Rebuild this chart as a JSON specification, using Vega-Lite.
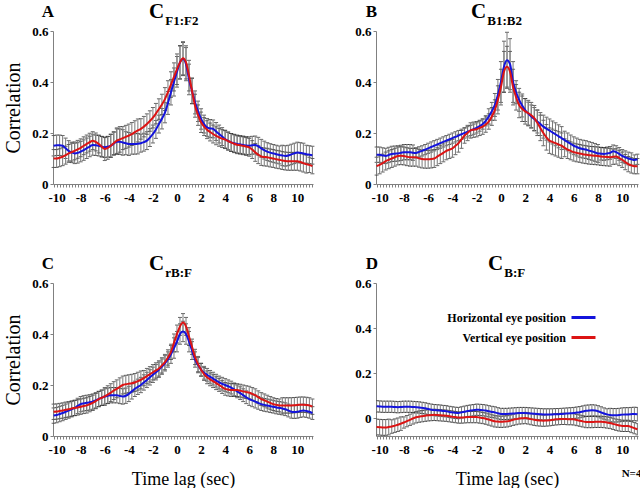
{
"$schema": "https://vega.github.io/schema/vega-lite/v6.json",
"padding": {"left": 3, "top": 1, "right": 5, "bottom": 0},
"background": "white",
"config": {
 "view": {"stroke": null},
 "font": "Liberation Serif",
 "axis": {"grid": false, "domainColor": "#808080", "tickColor": "#808080", "tickSize": 3, "labelFont": "Liberation Serif", "labelFontSize": 13, "labelFontWeight": "bold", "labelColor": "#000", "titleFont": "Liberation Serif", "titleFontWeight": "normal", "titleFontSize": 20, "titleColor": "#000", "labelFlush": false, "labelOverlap": false},
 "title": {"font": "Liberation Serif", "fontWeight": "bold", "color": "#000", "subtitleFont": "Liberation Serif", "subtitleFontWeight": "bold", "subtitleColor": "#000"}
},
"title": {"text": "N=4", "orient": "bottom", "anchor": "end", "fontSize": 11, "offset": -20},
"datasets": {
"A": [
{"t":-10.25,"h":0.150,"a":0.04,"v":0.100,"b":0.035},
{"t":-10,"h":0.152,"a":0.04,"v":0.100,"b":0.035},
{"t":-9.75,"h":0.152,"a":0.04,"v":0.103,"b":0.035},
{"t":-9.5,"h":0.150,"a":0.04,"v":0.107,"b":0.035},
{"t":-9.25,"h":0.140,"a":0.04,"v":0.113,"b":0.035},
{"t":-9,"h":0.130,"a":0.04,"v":0.120,"b":0.035},
{"t":-8.75,"h":0.124,"a":0.04,"v":0.125,"b":0.035},
{"t":-8.5,"h":0.120,"a":0.04,"v":0.130,"b":0.035},
{"t":-8.25,"h":0.122,"a":0.04,"v":0.136,"b":0.035},
{"t":-8,"h":0.127,"a":0.04,"v":0.142,"b":0.035},
{"t":-7.75,"h":0.133,"a":0.04,"v":0.150,"b":0.035},
{"t":-7.5,"h":0.140,"a":0.04,"v":0.157,"b":0.035},
{"t":-7.25,"h":0.147,"a":0.04,"v":0.164,"b":0.035},
{"t":-7,"h":0.153,"a":0.04,"v":0.170,"b":0.035},
{"t":-6.75,"h":0.152,"a":0.04,"v":0.165,"b":0.035},
{"t":-6.5,"h":0.150,"a":0.04,"v":0.157,"b":0.035},
{"t":-6.25,"h":0.147,"a":0.04,"v":0.146,"b":0.04},
{"t":-6,"h":0.144,"a":0.04,"v":0.137,"b":0.045},
{"t":-5.75,"h":0.146,"a":0.04,"v":0.142,"b":0.045},
{"t":-5.5,"h":0.150,"a":0.045,"v":0.150,"b":0.045},
{"t":-5.25,"h":0.158,"a":0.045,"v":0.160,"b":0.045},
{"t":-5,"h":0.166,"a":0.05,"v":0.170,"b":0.05},
{"t":-4.75,"h":0.166,"a":0.05,"v":0.175,"b":0.05},
{"t":-4.5,"h":0.163,"a":0.05,"v":0.180,"b":0.045},
{"t":-4.25,"h":0.160,"a":0.045,"v":0.185,"b":0.045},
{"t":-4,"h":0.157,"a":0.045,"v":0.190,"b":0.045},
{"t":-3.75,"h":0.157,"a":0.04,"v":0.196,"b":0.045},
{"t":-3.5,"h":0.157,"a":0.04,"v":0.203,"b":0.045},
{"t":-3.25,"h":0.158,"a":0.04,"v":0.210,"b":0.045},
{"t":-3,"h":0.160,"a":0.035,"v":0.216,"b":0.04},
{"t":-2.75,"h":0.164,"a":0.035,"v":0.225,"b":0.04},
{"t":-2.5,"h":0.170,"a":0.035,"v":0.235,"b":0.04},
{"t":-2.25,"h":0.182,"a":0.035,"v":0.247,"b":0.04},
{"t":-2,"h":0.196,"a":0.035,"v":0.260,"b":0.04},
{"t":-1.75,"h":0.214,"a":0.035,"v":0.276,"b":0.04},
{"t":-1.5,"h":0.235,"a":0.035,"v":0.294,"b":0.04},
{"t":-1.25,"h":0.256,"a":0.04,"v":0.312,"b":0.04},
{"t":-1,"h":0.280,"a":0.04,"v":0.333,"b":0.045},
{"t":-0.75,"h":0.318,"a":0.045,"v":0.360,"b":0.045},
{"t":-0.5,"h":0.360,"a":0.05,"v":0.390,"b":0.05},
{"t":-0.25,"h":0.400,"a":0.055,"v":0.420,"b":0.055},
{"t":0,"h":0.440,"a":0.06,"v":0.450,"b":0.06},
{"t":0.25,"h":0.477,"a":0.065,"v":0.477,"b":0.065},
{"t":0.5,"h":0.490,"a":0.065,"v":0.493,"b":0.065},
{"t":0.75,"h":0.470,"a":0.065,"v":0.477,"b":0.065},
{"t":1,"h":0.410,"a":0.06,"v":0.425,"b":0.06},
{"t":1.25,"h":0.365,"a":0.05,"v":0.365,"b":0.05},
{"t":1.5,"h":0.320,"a":0.045,"v":0.307,"b":0.045},
{"t":1.75,"h":0.285,"a":0.04,"v":0.270,"b":0.04},
{"t":2,"h":0.255,"a":0.04,"v":0.242,"b":0.04},
{"t":2.25,"h":0.235,"a":0.035,"v":0.225,"b":0.035},
{"t":2.5,"h":0.222,"a":0.035,"v":0.213,"b":0.035},
{"t":2.75,"h":0.218,"a":0.035,"v":0.204,"b":0.035},
{"t":3,"h":0.216,"a":0.035,"v":0.196,"b":0.035},
{"t":3.25,"h":0.206,"a":0.035,"v":0.189,"b":0.035},
{"t":3.5,"h":0.196,"a":0.035,"v":0.183,"b":0.035},
{"t":3.75,"h":0.186,"a":0.035,"v":0.178,"b":0.035},
{"t":4,"h":0.176,"a":0.035,"v":0.174,"b":0.035},
{"t":4.25,"h":0.169,"a":0.035,"v":0.168,"b":0.035},
{"t":4.5,"h":0.163,"a":0.035,"v":0.163,"b":0.035},
{"t":4.75,"h":0.160,"a":0.035,"v":0.158,"b":0.035},
{"t":5,"h":0.157,"a":0.035,"v":0.154,"b":0.035},
{"t":5.25,"h":0.155,"a":0.035,"v":0.152,"b":0.035},
{"t":5.5,"h":0.153,"a":0.035,"v":0.150,"b":0.035},
{"t":5.75,"h":0.151,"a":0.035,"v":0.147,"b":0.035},
{"t":6,"h":0.150,"a":0.035,"v":0.144,"b":0.035},
{"t":6.25,"h":0.152,"a":0.035,"v":0.135,"b":0.035},
{"t":6.5,"h":0.153,"a":0.035,"v":0.124,"b":0.035},
{"t":6.75,"h":0.148,"a":0.035,"v":0.115,"b":0.035},
{"t":7,"h":0.140,"a":0.035,"v":0.108,"b":0.035},
{"t":7.25,"h":0.133,"a":0.035,"v":0.106,"b":0.035},
{"t":7.5,"h":0.127,"a":0.035,"v":0.105,"b":0.035},
{"t":7.75,"h":0.123,"a":0.035,"v":0.102,"b":0.035},
{"t":8,"h":0.120,"a":0.035,"v":0.100,"b":0.035},
{"t":8.25,"h":0.117,"a":0.035,"v":0.097,"b":0.035},
{"t":8.5,"h":0.114,"a":0.035,"v":0.095,"b":0.035},
{"t":8.75,"h":0.112,"a":0.04,"v":0.092,"b":0.035},
{"t":9,"h":0.110,"a":0.04,"v":0.090,"b":0.035},
{"t":9.25,"h":0.112,"a":0.04,"v":0.089,"b":0.035},
{"t":9.5,"h":0.116,"a":0.04,"v":0.089,"b":0.035},
{"t":9.75,"h":0.120,"a":0.04,"v":0.089,"b":0.035},
{"t":10,"h":0.124,"a":0.04,"v":0.089,"b":0.035},
{"t":10.25,"h":0.122,"a":0.04,"v":0.086,"b":0.035},
{"t":10.5,"h":0.120,"a":0.04,"v":0.082,"b":0.035},
{"t":10.75,"h":0.117,"a":0.035,"v":0.078,"b":0.035},
{"t":11,"h":0.115,"a":0.035,"v":0.075,"b":0.03},
{"t":11.25,"h":0.113,"a":0.035,"v":0.070,"b":0.03}
],
"B": [
{"t":-10.25,"h":0.115,"a":0.03,"v":0.070,"b":0.035},
{"t":-10,"h":0.115,"a":0.03,"v":0.075,"b":0.035},
{"t":-9.75,"h":0.112,"a":0.03,"v":0.082,"b":0.035},
{"t":-9.5,"h":0.110,"a":0.03,"v":0.090,"b":0.035},
{"t":-9.25,"h":0.114,"a":0.03,"v":0.095,"b":0.035},
{"t":-9,"h":0.118,"a":0.03,"v":0.100,"b":0.035},
{"t":-8.75,"h":0.119,"a":0.03,"v":0.105,"b":0.035},
{"t":-8.5,"h":0.120,"a":0.03,"v":0.110,"b":0.035},
{"t":-8.25,"h":0.122,"a":0.03,"v":0.111,"b":0.035},
{"t":-8,"h":0.125,"a":0.03,"v":0.110,"b":0.035},
{"t":-7.75,"h":0.125,"a":0.03,"v":0.107,"b":0.035},
{"t":-7.5,"h":0.125,"a":0.03,"v":0.105,"b":0.035},
{"t":-7.25,"h":0.123,"a":0.03,"v":0.105,"b":0.035},
{"t":-7,"h":0.122,"a":0.02,"v":0.105,"b":0.035},
{"t":-6.75,"h":0.126,"a":0.02,"v":0.101,"b":0.035},
{"t":-6.5,"h":0.130,"a":0.02,"v":0.098,"b":0.035},
{"t":-6.25,"h":0.135,"a":0.02,"v":0.097,"b":0.035},
{"t":-6,"h":0.140,"a":0.02,"v":0.097,"b":0.035},
{"t":-5.75,"h":0.145,"a":0.02,"v":0.098,"b":0.035},
{"t":-5.5,"h":0.150,"a":0.02,"v":0.100,"b":0.035},
{"t":-5.25,"h":0.155,"a":0.02,"v":0.107,"b":0.035},
{"t":-5,"h":0.160,"a":0.02,"v":0.115,"b":0.035},
{"t":-4.75,"h":0.165,"a":0.02,"v":0.122,"b":0.035},
{"t":-4.5,"h":0.170,"a":0.02,"v":0.130,"b":0.035},
{"t":-4.25,"h":0.175,"a":0.02,"v":0.135,"b":0.035},
{"t":-4,"h":0.180,"a":0.02,"v":0.140,"b":0.035},
{"t":-3.75,"h":0.185,"a":0.02,"v":0.150,"b":0.035},
{"t":-3.5,"h":0.190,"a":0.02,"v":0.160,"b":0.035},
{"t":-3.25,"h":0.195,"a":0.02,"v":0.175,"b":0.035},
{"t":-3,"h":0.200,"a":0.02,"v":0.190,"b":0.03},
{"t":-2.75,"h":0.205,"a":0.02,"v":0.200,"b":0.03},
{"t":-2.5,"h":0.210,"a":0.02,"v":0.210,"b":0.03},
{"t":-2.25,"h":0.215,"a":0.02,"v":0.213,"b":0.03},
{"t":-2,"h":0.220,"a":0.02,"v":0.215,"b":0.03},
{"t":-1.75,"h":0.227,"a":0.02,"v":0.220,"b":0.03},
{"t":-1.5,"h":0.235,"a":0.02,"v":0.225,"b":0.03},
{"t":-1.25,"h":0.248,"a":0.02,"v":0.233,"b":0.03},
{"t":-1,"h":0.265,"a":0.03,"v":0.245,"b":0.03},
{"t":-0.75,"h":0.285,"a":0.035,"v":0.265,"b":0.035},
{"t":-0.5,"h":0.310,"a":0.045,"v":0.290,"b":0.04},
{"t":-0.25,"h":0.350,"a":0.06,"v":0.330,"b":0.055},
{"t":0,"h":0.400,"a":0.08,"v":0.380,"b":0.07},
{"t":0.25,"h":0.460,"a":0.1,"v":0.440,"b":0.08},
{"t":0.5,"h":0.485,"a":0.11,"v":0.460,"b":0.08},
{"t":0.75,"h":0.470,"a":0.1,"v":0.440,"b":0.08},
{"t":1,"h":0.400,"a":0.08,"v":0.380,"b":0.07},
{"t":1.25,"h":0.360,"a":0.045,"v":0.340,"b":0.05},
{"t":1.5,"h":0.330,"a":0.045,"v":0.310,"b":0.05},
{"t":1.75,"h":0.308,"a":0.045,"v":0.295,"b":0.05},
{"t":2,"h":0.290,"a":0.045,"v":0.285,"b":0.05},
{"t":2.25,"h":0.276,"a":0.045,"v":0.278,"b":0.05},
{"t":2.5,"h":0.265,"a":0.045,"v":0.270,"b":0.05},
{"t":2.75,"h":0.255,"a":0.045,"v":0.258,"b":0.05},
{"t":3,"h":0.245,"a":0.045,"v":0.240,"b":0.05},
{"t":3.25,"h":0.235,"a":0.045,"v":0.220,"b":0.05},
{"t":3.5,"h":0.225,"a":0.045,"v":0.200,"b":0.05},
{"t":3.75,"h":0.217,"a":0.045,"v":0.183,"b":0.05},
{"t":4,"h":0.210,"a":0.045,"v":0.170,"b":0.05},
{"t":4.25,"h":0.202,"a":0.045,"v":0.165,"b":0.05},
{"t":4.5,"h":0.195,"a":0.045,"v":0.160,"b":0.05},
{"t":4.75,"h":0.187,"a":0.045,"v":0.155,"b":0.05},
{"t":5,"h":0.180,"a":0.045,"v":0.150,"b":0.05},
{"t":5.25,"h":0.172,"a":0.035,"v":0.142,"b":0.035},
{"t":5.5,"h":0.165,"a":0.035,"v":0.135,"b":0.035},
{"t":5.75,"h":0.157,"a":0.035,"v":0.130,"b":0.035},
{"t":6,"h":0.150,"a":0.035,"v":0.125,"b":0.035},
{"t":6.25,"h":0.145,"a":0.035,"v":0.122,"b":0.035},
{"t":6.5,"h":0.140,"a":0.035,"v":0.120,"b":0.035},
{"t":6.75,"h":0.137,"a":0.035,"v":0.117,"b":0.035},
{"t":7,"h":0.135,"a":0.035,"v":0.115,"b":0.035},
{"t":7.25,"h":0.131,"a":0.035,"v":0.113,"b":0.035},
{"t":7.5,"h":0.128,"a":0.035,"v":0.112,"b":0.035},
{"t":7.75,"h":0.124,"a":0.035,"v":0.111,"b":0.035},
{"t":8,"h":0.120,"a":0.035,"v":0.110,"b":0.035},
{"t":8.25,"h":0.119,"a":0.025,"v":0.108,"b":0.035},
{"t":8.5,"h":0.118,"a":0.025,"v":0.107,"b":0.035},
{"t":8.75,"h":0.120,"a":0.025,"v":0.106,"b":0.035},
{"t":9,"h":0.122,"a":0.025,"v":0.105,"b":0.035},
{"t":9.25,"h":0.128,"a":0.025,"v":0.107,"b":0.03},
{"t":9.5,"h":0.125,"a":0.025,"v":0.108,"b":0.03},
{"t":9.75,"h":0.118,"a":0.025,"v":0.102,"b":0.03},
{"t":10,"h":0.110,"a":0.025,"v":0.095,"b":0.03},
{"t":10.25,"h":0.105,"a":0.025,"v":0.086,"b":0.03},
{"t":10.5,"h":0.100,"a":0.025,"v":0.078,"b":0.03},
{"t":10.75,"h":0.097,"a":0.025,"v":0.073,"b":0.03},
{"t":11,"h":0.094,"a":0.02,"v":0.070,"b":0.03},
{"t":11.25,"h":0.097,"a":0.02,"v":0.070,"b":0.03}
],
"C": [
{"t":-10.25,"h":0.080,"a":0.03,"v":0.095,"b":0.03},
{"t":-10,"h":0.082,"a":0.03,"v":0.096,"b":0.03},
{"t":-9.75,"h":0.086,"a":0.03,"v":0.098,"b":0.03},
{"t":-9.5,"h":0.090,"a":0.03,"v":0.100,"b":0.03},
{"t":-9.25,"h":0.095,"a":0.03,"v":0.103,"b":0.03},
{"t":-9,"h":0.100,"a":0.03,"v":0.105,"b":0.03},
{"t":-8.75,"h":0.105,"a":0.03,"v":0.108,"b":0.03},
{"t":-8.5,"h":0.110,"a":0.03,"v":0.110,"b":0.03},
{"t":-8.25,"h":0.118,"a":0.03,"v":0.112,"b":0.03},
{"t":-8,"h":0.125,"a":0.03,"v":0.115,"b":0.03},
{"t":-7.75,"h":0.128,"a":0.03,"v":0.118,"b":0.03},
{"t":-7.5,"h":0.130,"a":0.03,"v":0.120,"b":0.03},
{"t":-7.25,"h":0.132,"a":0.03,"v":0.125,"b":0.03},
{"t":-7,"h":0.135,"a":0.03,"v":0.130,"b":0.03},
{"t":-6.75,"h":0.140,"a":0.03,"v":0.137,"b":0.03},
{"t":-6.5,"h":0.145,"a":0.03,"v":0.145,"b":0.03},
{"t":-6.25,"h":0.150,"a":0.03,"v":0.150,"b":0.03},
{"t":-6,"h":0.155,"a":0.03,"v":0.155,"b":0.035},
{"t":-5.75,"h":0.158,"a":0.03,"v":0.162,"b":0.035},
{"t":-5.5,"h":0.160,"a":0.03,"v":0.170,"b":0.035},
{"t":-5.25,"h":0.160,"a":0.03,"v":0.178,"b":0.035},
{"t":-5,"h":0.160,"a":0.03,"v":0.185,"b":0.035},
{"t":-4.75,"h":0.157,"a":0.03,"v":0.193,"b":0.035},
{"t":-4.5,"h":0.155,"a":0.03,"v":0.200,"b":0.035},
{"t":-4.25,"h":0.158,"a":0.03,"v":0.203,"b":0.035},
{"t":-4,"h":0.165,"a":0.03,"v":0.205,"b":0.035},
{"t":-3.75,"h":0.175,"a":0.03,"v":0.207,"b":0.035},
{"t":-3.5,"h":0.185,"a":0.03,"v":0.210,"b":0.035},
{"t":-3.25,"h":0.193,"a":0.03,"v":0.215,"b":0.035},
{"t":-3,"h":0.200,"a":0.03,"v":0.220,"b":0.035},
{"t":-2.75,"h":0.210,"a":0.03,"v":0.227,"b":0.03},
{"t":-2.5,"h":0.220,"a":0.03,"v":0.235,"b":0.03},
{"t":-2.25,"h":0.230,"a":0.03,"v":0.242,"b":0.03},
{"t":-2,"h":0.240,"a":0.03,"v":0.250,"b":0.03},
{"t":-1.75,"h":0.250,"a":0.03,"v":0.257,"b":0.03},
{"t":-1.5,"h":0.260,"a":0.03,"v":0.265,"b":0.03},
{"t":-1.25,"h":0.272,"a":0.03,"v":0.277,"b":0.03},
{"t":-1,"h":0.285,"a":0.03,"v":0.290,"b":0.03},
{"t":-0.75,"h":0.300,"a":0.03,"v":0.308,"b":0.03},
{"t":-0.5,"h":0.320,"a":0.035,"v":0.330,"b":0.03},
{"t":-0.25,"h":0.345,"a":0.04,"v":0.365,"b":0.035},
{"t":0,"h":0.370,"a":0.04,"v":0.400,"b":0.035},
{"t":0.25,"h":0.400,"a":0.04,"v":0.430,"b":0.035},
{"t":0.5,"h":0.410,"a":0.04,"v":0.445,"b":0.035},
{"t":0.75,"h":0.400,"a":0.04,"v":0.430,"b":0.035},
{"t":1,"h":0.370,"a":0.04,"v":0.390,"b":0.035},
{"t":1.25,"h":0.335,"a":0.035,"v":0.350,"b":0.03},
{"t":1.5,"h":0.300,"a":0.03,"v":0.310,"b":0.03},
{"t":1.75,"h":0.278,"a":0.03,"v":0.282,"b":0.03},
{"t":2,"h":0.260,"a":0.025,"v":0.260,"b":0.025},
{"t":2.25,"h":0.248,"a":0.025,"v":0.243,"b":0.025},
{"t":2.5,"h":0.240,"a":0.025,"v":0.230,"b":0.025},
{"t":2.75,"h":0.232,"a":0.025,"v":0.222,"b":0.025},
{"t":3,"h":0.225,"a":0.025,"v":0.215,"b":0.025},
{"t":3.25,"h":0.217,"a":0.025,"v":0.207,"b":0.025},
{"t":3.5,"h":0.210,"a":0.025,"v":0.200,"b":0.025},
{"t":3.75,"h":0.205,"a":0.025,"v":0.192,"b":0.025},
{"t":4,"h":0.200,"a":0.025,"v":0.185,"b":0.025},
{"t":4.25,"h":0.195,"a":0.025,"v":0.182,"b":0.025},
{"t":4.5,"h":0.190,"a":0.025,"v":0.180,"b":0.025},
{"t":4.75,"h":0.183,"a":0.025,"v":0.180,"b":0.025},
{"t":5,"h":0.175,"a":0.025,"v":0.180,"b":0.025},
{"t":5.25,"h":0.168,"a":0.025,"v":0.178,"b":0.025},
{"t":5.5,"h":0.160,"a":0.025,"v":0.175,"b":0.025},
{"t":5.75,"h":0.152,"a":0.025,"v":0.172,"b":0.025},
{"t":6,"h":0.145,"a":0.025,"v":0.170,"b":0.025},
{"t":6.25,"h":0.140,"a":0.025,"v":0.165,"b":0.025},
{"t":6.5,"h":0.135,"a":0.025,"v":0.160,"b":0.025},
{"t":6.75,"h":0.130,"a":0.025,"v":0.152,"b":0.025},
{"t":7,"h":0.125,"a":0.025,"v":0.145,"b":0.025},
{"t":7.25,"h":0.122,"a":0.025,"v":0.140,"b":0.025},
{"t":7.5,"h":0.120,"a":0.025,"v":0.135,"b":0.025},
{"t":7.75,"h":0.117,"a":0.025,"v":0.130,"b":0.025},
{"t":8,"h":0.115,"a":0.025,"v":0.125,"b":0.025},
{"t":8.25,"h":0.112,"a":0.025,"v":0.122,"b":0.025},
{"t":8.5,"h":0.110,"a":0.025,"v":0.120,"b":0.025},
{"t":8.75,"h":0.108,"a":0.025,"v":0.120,"b":0.03},
{"t":9,"h":0.105,"a":0.025,"v":0.120,"b":0.03},
{"t":9.25,"h":0.100,"a":0.025,"v":0.120,"b":0.03},
{"t":9.5,"h":0.095,"a":0.025,"v":0.120,"b":0.03},
{"t":9.75,"h":0.094,"a":0.025,"v":0.121,"b":0.03},
{"t":10,"h":0.095,"a":0.025,"v":0.122,"b":0.03},
{"t":10.25,"h":0.098,"a":0.025,"v":0.123,"b":0.03},
{"t":10.5,"h":0.100,"a":0.025,"v":0.123,"b":0.03},
{"t":10.75,"h":0.098,"a":0.025,"v":0.122,"b":0.03},
{"t":11,"h":0.095,"a":0.025,"v":0.120,"b":0.03},
{"t":11.25,"h":0.090,"a":0.025,"v":0.115,"b":0.03}
],
"D": [
{"t":-10.25,"h":0.052,"a":0.025,"v":-0.040,"b":0.035},
{"t":-10,"h":0.051,"a":0.025,"v":-0.041,"b":0.035},
{"t":-9.75,"h":0.050,"a":0.025,"v":-0.042,"b":0.035},
{"t":-9.5,"h":0.050,"a":0.025,"v":-0.042,"b":0.035},
{"t":-9.25,"h":0.050,"a":0.025,"v":-0.040,"b":0.035},
{"t":-9,"h":0.050,"a":0.025,"v":-0.038,"b":0.03},
{"t":-8.75,"h":0.049,"a":0.025,"v":-0.034,"b":0.03},
{"t":-8.5,"h":0.048,"a":0.025,"v":-0.030,"b":0.03},
{"t":-8.25,"h":0.049,"a":0.025,"v":-0.025,"b":0.03},
{"t":-8,"h":0.050,"a":0.025,"v":-0.020,"b":0.025},
{"t":-7.75,"h":0.050,"a":0.025,"v":-0.014,"b":0.025},
{"t":-7.5,"h":0.050,"a":0.025,"v":-0.008,"b":0.025},
{"t":-7.25,"h":0.049,"a":0.025,"v":-0.002,"b":0.025},
{"t":-7,"h":0.048,"a":0.025,"v":0.003,"b":0.025},
{"t":-6.75,"h":0.047,"a":0.025,"v":0.006,"b":0.025},
{"t":-6.5,"h":0.045,"a":0.025,"v":0.008,"b":0.025},
{"t":-6.25,"h":0.043,"a":0.025,"v":0.010,"b":0.025},
{"t":-6,"h":0.040,"a":0.025,"v":0.012,"b":0.025},
{"t":-5.75,"h":0.037,"a":0.025,"v":0.013,"b":0.025},
{"t":-5.5,"h":0.035,"a":0.025,"v":0.014,"b":0.025},
{"t":-5.25,"h":0.034,"a":0.025,"v":0.013,"b":0.025},
{"t":-5,"h":0.033,"a":0.025,"v":0.012,"b":0.025},
{"t":-4.75,"h":0.031,"a":0.025,"v":0.011,"b":0.025},
{"t":-4.5,"h":0.030,"a":0.025,"v":0.010,"b":0.025},
{"t":-4.25,"h":0.027,"a":0.025,"v":0.008,"b":0.025},
{"t":-4,"h":0.025,"a":0.025,"v":0.006,"b":0.025},
{"t":-3.75,"h":0.023,"a":0.025,"v":0.004,"b":0.025},
{"t":-3.5,"h":0.022,"a":0.025,"v":0.002,"b":0.025},
{"t":-3.25,"h":0.025,"a":0.025,"v":0.002,"b":0.025},
{"t":-3,"h":0.028,"a":0.025,"v":0.003,"b":0.025},
{"t":-2.75,"h":0.031,"a":0.025,"v":0.004,"b":0.025},
{"t":-2.5,"h":0.033,"a":0.025,"v":0.004,"b":0.025},
{"t":-2.25,"h":0.035,"a":0.025,"v":0.004,"b":0.025},
{"t":-2,"h":0.037,"a":0.025,"v":0.004,"b":0.025},
{"t":-1.75,"h":0.036,"a":0.025,"v":0.002,"b":0.025},
{"t":-1.5,"h":0.035,"a":0.025,"v":0.000,"b":0.025},
{"t":-1.25,"h":0.033,"a":0.025,"v":-0.003,"b":0.025},
{"t":-1,"h":0.030,"a":0.025,"v":-0.007,"b":0.025},
{"t":-0.75,"h":0.027,"a":0.025,"v":-0.011,"b":0.025},
{"t":-0.5,"h":0.025,"a":0.025,"v":-0.015,"b":0.025},
{"t":-0.25,"h":0.021,"a":0.025,"v":-0.016,"b":0.025},
{"t":0,"h":0.018,"a":0.025,"v":-0.017,"b":0.025},
{"t":0.25,"h":0.018,"a":0.025,"v":-0.016,"b":0.025},
{"t":0.5,"h":0.018,"a":0.025,"v":-0.015,"b":0.025},
{"t":0.75,"h":0.019,"a":0.025,"v":-0.012,"b":0.025},
{"t":1,"h":0.020,"a":0.025,"v":-0.008,"b":0.025},
{"t":1.25,"h":0.021,"a":0.025,"v":-0.005,"b":0.025},
{"t":1.5,"h":0.022,"a":0.025,"v":-0.002,"b":0.025},
{"t":1.75,"h":0.022,"a":0.025,"v":-0.001,"b":0.025},
{"t":2,"h":0.022,"a":0.025,"v":0.000,"b":0.025},
{"t":2.25,"h":0.021,"a":0.025,"v":-0.002,"b":0.025},
{"t":2.5,"h":0.020,"a":0.025,"v":-0.005,"b":0.025},
{"t":2.75,"h":0.019,"a":0.025,"v":-0.008,"b":0.025},
{"t":3,"h":0.018,"a":0.025,"v":-0.010,"b":0.025},
{"t":3.25,"h":0.017,"a":0.025,"v":-0.011,"b":0.025},
{"t":3.5,"h":0.016,"a":0.025,"v":-0.012,"b":0.025},
{"t":3.75,"h":0.016,"a":0.025,"v":-0.011,"b":0.025},
{"t":4,"h":0.016,"a":0.025,"v":-0.010,"b":0.025},
{"t":4.25,"h":0.016,"a":0.025,"v":-0.008,"b":0.025},
{"t":4.5,"h":0.017,"a":0.025,"v":-0.006,"b":0.025},
{"t":4.75,"h":0.017,"a":0.025,"v":-0.005,"b":0.025},
{"t":5,"h":0.018,"a":0.025,"v":-0.004,"b":0.025},
{"t":5.25,"h":0.019,"a":0.025,"v":-0.004,"b":0.025},
{"t":5.5,"h":0.020,"a":0.025,"v":-0.005,"b":0.025},
{"t":5.75,"h":0.021,"a":0.025,"v":-0.005,"b":0.025},
{"t":6,"h":0.022,"a":0.025,"v":-0.006,"b":0.025},
{"t":6.25,"h":0.024,"a":0.025,"v":-0.009,"b":0.025},
{"t":6.5,"h":0.026,"a":0.025,"v":-0.012,"b":0.025},
{"t":6.75,"h":0.029,"a":0.025,"v":-0.015,"b":0.025},
{"t":7,"h":0.032,"a":0.025,"v":-0.018,"b":0.025},
{"t":7.25,"h":0.033,"a":0.025,"v":-0.018,"b":0.025},
{"t":7.5,"h":0.034,"a":0.025,"v":-0.018,"b":0.025},
{"t":7.75,"h":0.033,"a":0.025,"v":-0.017,"b":0.025},
{"t":8,"h":0.030,"a":0.025,"v":-0.017,"b":0.025},
{"t":8.25,"h":0.025,"a":0.025,"v":-0.017,"b":0.025},
{"t":8.5,"h":0.020,"a":0.025,"v":-0.018,"b":0.025},
{"t":8.75,"h":0.016,"a":0.025,"v":-0.020,"b":0.025},
{"t":9,"h":0.013,"a":0.03,"v":-0.022,"b":0.025},
{"t":9.25,"h":0.012,"a":0.03,"v":-0.026,"b":0.025},
{"t":9.5,"h":0.012,"a":0.03,"v":-0.030,"b":0.025},
{"t":9.75,"h":0.013,"a":0.03,"v":-0.033,"b":0.025},
{"t":10,"h":0.015,"a":0.03,"v":-0.035,"b":0.025},
{"t":10.25,"h":0.016,"a":0.03,"v":-0.035,"b":0.025},
{"t":10.5,"h":0.016,"a":0.03,"v":-0.035,"b":0.025},
{"t":10.75,"h":0.017,"a":0.03,"v":-0.040,"b":0.025},
{"t":11,"h":0.018,"a":0.03,"v":-0.045,"b":0.025},
{"t":11.25,"h":0.017,"a":0.03,"v":-0.050,"b":0.025}
]
},
"spacing": 49,
"resolve": {"scale": {"color": "independent"}, "legend": {"color": "independent"}},
"vconcat": [
{"hconcat": [
 {"title": {"text": "A", "anchor": "start", "fontSize": 17, "dx": 38, "offset": -20},
  "resolve": {"scale": {"color": "independent"}, "legend": {"color": "independent"}},
  "vconcat": [{
  "width": 260, "height": 153,
  "data": {"name": "A"},
  "title": {"text": "C", "subtitle": "\u200b\u00a0\u00a0\u00a0\u00a0\u00a0F1:F2", "anchor": "middle", "align": "left", "dx": -34, "offset": -3, "fontSize": 21, "subtitleFontSize": 13, "subtitlePadding": -7},
  "encoding": {"x": {"field": "t", "type": "quantitative", "scale": {"domain": [-10.3, 11.3], "nice": false, "zero": false},
    "axis": {"title": null, "labelPadding": 4, "values": [-10.25,-10,-9.75,-9.5,-9.25,-9,-8.75,-8.5,-8.25,-8,-7.75,-7.5,-7.25,-7,-6.75,-6.5,-6.25,-6,-5.75,-5.5,-5.25,-5,-4.75,-4.5,-4.25,-4,-3.75,-3.5,-3.25,-3,-2.75,-2.5,-2.25,-2,-1.75,-1.5,-1.25,-1,-0.75,-0.5,-0.25,0,0.25,0.5,0.75,1,1.25,1.5,1.75,2,2.25,2.5,2.75,3,3.25,3.5,3.75,4,4.25,4.5,4.75,5,5.25,5.5,5.75,6,6.25,6.5,6.75,7,7.25,7.5,7.75,8,8.25,8.5,8.75,9,9.25,9.5,9.75,10,10.25,10.5,10.75,11,11.25], "labelExpr": "datum.value % 2 == 0 && abs(datum.value) <= 10 ? toString(datum.value) : ''"}}},
  "layer": [
   {"mark": {"type": "errorbar", "ticks": {"color": "#222", "size": 4}, "rule": {"color": "#7a7a7a"}, "thickness": 1},
    "encoding": {"y": {"field": "h", "type": "quantitative", "title": "Correlation", "scale": {"domain": [0, 0.6], "nice": false},
      "axis": {"values": [0, 0.2, 0.4, 0.6], "titlePadding": 8, "labelExpr": "datum.value == 0 ? '0' : format(datum.value, '.1f')"}}, "yError": {"field": "a"}}},
   {"mark": {"type": "errorbar", "ticks": {"color": "#222", "size": 4}, "rule": {"color": "#7a7a7a"}, "thickness": 1},
    "encoding": {"y": {"field": "v", "type": "quantitative", "title": "Correlation"}, "yError": {"field": "b"}}},
   {"mark": {"type": "line", "color": "#1414dc", "strokeWidth": 2, "interpolate": "monotone"},
    "encoding": {"y": {"field": "h", "type": "quantitative", "title": "Correlation"}}},
   {"mark": {"type": "line", "color": "#dc1414", "strokeWidth": 2, "interpolate": "monotone"},
    "encoding": {"y": {"field": "v", "type": "quantitative", "title": "Correlation"}}}
  ]}]},
 {"title": {"text": "B", "anchor": "start", "fontSize": 17, "dx": 11, "offset": -20},
  "resolve": {"scale": {"color": "independent"}, "legend": {"color": "independent"}},
  "vconcat": [{
  "width": 262, "height": 153,
  "data": {"name": "B"},
  "title": {"text": "C", "subtitle": "\u200b\u00a0\u00a0\u00a0\u00a0\u00a0B1:B2", "anchor": "middle", "align": "left", "dx": -36, "offset": -3, "fontSize": 21, "subtitleFontSize": 13, "subtitlePadding": -7},
  "encoding": {"x": {"field": "t", "type": "quantitative", "scale": {"domain": [-10.3, 11.3], "nice": false, "zero": false},
    "axis": {"title": null, "labelPadding": 4, "values": [-10.25,-10,-9.75,-9.5,-9.25,-9,-8.75,-8.5,-8.25,-8,-7.75,-7.5,-7.25,-7,-6.75,-6.5,-6.25,-6,-5.75,-5.5,-5.25,-5,-4.75,-4.5,-4.25,-4,-3.75,-3.5,-3.25,-3,-2.75,-2.5,-2.25,-2,-1.75,-1.5,-1.25,-1,-0.75,-0.5,-0.25,0,0.25,0.5,0.75,1,1.25,1.5,1.75,2,2.25,2.5,2.75,3,3.25,3.5,3.75,4,4.25,4.5,4.75,5,5.25,5.5,5.75,6,6.25,6.5,6.75,7,7.25,7.5,7.75,8,8.25,8.5,8.75,9,9.25,9.5,9.75,10,10.25,10.5,10.75,11,11.25], "labelExpr": "datum.value % 2 == 0 && abs(datum.value) <= 10 ? toString(datum.value) : ''"}}},
  "layer": [
   {"mark": {"type": "errorbar", "ticks": {"color": "#222", "size": 4}, "rule": {"color": "#7a7a7a"}, "thickness": 1},
    "encoding": {"y": {"field": "h", "type": "quantitative", "title": null, "scale": {"domain": [0, 0.6], "nice": false},
      "axis": {"values": [0, 0.2, 0.4, 0.6], "labelExpr": "datum.value == 0 ? '0' : format(datum.value, '.1f')"}}, "yError": {"field": "a"}}},
   {"mark": {"type": "errorbar", "ticks": {"color": "#222", "size": 4}, "rule": {"color": "#7a7a7a"}, "thickness": 1},
    "encoding": {"y": {"field": "v", "type": "quantitative", "title": null}, "yError": {"field": "b"}}},
   {"mark": {"type": "line", "color": "#1414dc", "strokeWidth": 2, "interpolate": "monotone"},
    "encoding": {"y": {"field": "h", "type": "quantitative", "title": null}}},
   {"mark": {"type": "line", "color": "#dc1414", "strokeWidth": 2, "interpolate": "monotone"},
    "encoding": {"y": {"field": "v", "type": "quantitative", "title": null}}}
  ]}]}
], "spacing": 37, "resolve": {"scale": {"color": "independent"}, "legend": {"color": "independent"}}},
{"hconcat": [
 {"title": {"text": "C", "anchor": "start", "fontSize": 17, "dx": 38, "offset": -20},
  "resolve": {"scale": {"color": "independent"}, "legend": {"color": "independent"}},
  "vconcat": [{
  "width": 260, "height": 153,
  "data": {"name": "C"},
  "title": {"text": "C", "subtitle": "\u200b\u00a0\u00a0\u00a0\u00a0\u00a0rB:F", "anchor": "middle", "align": "left", "dx": -34, "offset": -3, "fontSize": 21, "subtitleFontSize": 13, "subtitlePadding": -7},
  "encoding": {"x": {"field": "t", "type": "quantitative", "scale": {"domain": [-10.3, 11.3], "nice": false, "zero": false},
    "axis": {"title": "Time lag (sec)", "titleFontSize": 18, "titlePadding": 14, "labelPadding": 4, "values": [-10.25,-10,-9.75,-9.5,-9.25,-9,-8.75,-8.5,-8.25,-8,-7.75,-7.5,-7.25,-7,-6.75,-6.5,-6.25,-6,-5.75,-5.5,-5.25,-5,-4.75,-4.5,-4.25,-4,-3.75,-3.5,-3.25,-3,-2.75,-2.5,-2.25,-2,-1.75,-1.5,-1.25,-1,-0.75,-0.5,-0.25,0,0.25,0.5,0.75,1,1.25,1.5,1.75,2,2.25,2.5,2.75,3,3.25,3.5,3.75,4,4.25,4.5,4.75,5,5.25,5.5,5.75,6,6.25,6.5,6.75,7,7.25,7.5,7.75,8,8.25,8.5,8.75,9,9.25,9.5,9.75,10,10.25,10.5,10.75,11,11.25], "labelExpr": "datum.value % 2 == 0 && abs(datum.value) <= 10 ? toString(datum.value) : ''"}}},
  "layer": [
   {"mark": {"type": "errorbar", "ticks": {"color": "#222", "size": 4}, "rule": {"color": "#7a7a7a"}, "thickness": 1},
    "encoding": {"y": {"field": "h", "type": "quantitative", "title": "Correlation", "scale": {"domain": [0, 0.6], "nice": false},
      "axis": {"values": [0, 0.2, 0.4, 0.6], "titlePadding": 8, "labelExpr": "datum.value == 0 ? '0' : format(datum.value, '.1f')"}}, "yError": {"field": "a"}}},
   {"mark": {"type": "errorbar", "ticks": {"color": "#222", "size": 4}, "rule": {"color": "#7a7a7a"}, "thickness": 1},
    "encoding": {"y": {"field": "v", "type": "quantitative", "title": "Correlation"}, "yError": {"field": "b"}}},
   {"mark": {"type": "line", "color": "#1414dc", "strokeWidth": 2, "interpolate": "monotone"},
    "encoding": {"y": {"field": "h", "type": "quantitative", "title": "Correlation"}}},
   {"mark": {"type": "line", "color": "#dc1414", "strokeWidth": 2, "interpolate": "monotone"},
    "encoding": {"y": {"field": "v", "type": "quantitative", "title": "Correlation"}}}
  ]}]},
 {"title": {"text": "D", "anchor": "start", "fontSize": 17, "dx": 11, "offset": -20},
  "resolve": {"scale": {"color": "independent"}, "legend": {"color": "independent"}},
  "vconcat": [{
  "width": 262, "height": 153,
  "data": {"name": "D"},
  "title": {"text": "C", "subtitle": "\u200b\u00a0\u00a0\u00a0\u00a0\u00a0B:F", "anchor": "middle", "align": "left", "dx": -19, "offset": -3, "fontSize": 21, "subtitleFontSize": 13, "subtitlePadding": -7},
  "encoding": {"x": {"field": "t", "type": "quantitative", "scale": {"domain": [-10.3, 11.3], "nice": false, "zero": false},
    "axis": {"title": "Time lag (sec)", "titleFontSize": 18, "titlePadding": 14, "labelPadding": 4, "values": [-10.25,-10,-9.75,-9.5,-9.25,-9,-8.75,-8.5,-8.25,-8,-7.75,-7.5,-7.25,-7,-6.75,-6.5,-6.25,-6,-5.75,-5.5,-5.25,-5,-4.75,-4.5,-4.25,-4,-3.75,-3.5,-3.25,-3,-2.75,-2.5,-2.25,-2,-1.75,-1.5,-1.25,-1,-0.75,-0.5,-0.25,0,0.25,0.5,0.75,1,1.25,1.5,1.75,2,2.25,2.5,2.75,3,3.25,3.5,3.75,4,4.25,4.5,4.75,5,5.25,5.5,5.75,6,6.25,6.5,6.75,7,7.25,7.5,7.75,8,8.25,8.5,8.75,9,9.25,9.5,9.75,10,10.25,10.5,10.75,11,11.25], "labelExpr": "datum.value % 2 == 0 && abs(datum.value) <= 10 ? toString(datum.value) : ''"}}},
  "layer": [
   {"mark": {"type": "rule", "color": "#666", "strokeWidth": 1},
    "encoding": {"y": {"datum": 0, "type": "quantitative", "title": null, "scale": {"domain": [-0.08, 0.6], "nice": false},
      "axis": {"values": [0, 0.2, 0.4, 0.6], "labelExpr": "datum.value == 0 ? '0' : format(datum.value, '.1f')"}}}},
   {"mark": {"type": "errorbar", "ticks": {"color": "#222", "size": 4}, "rule": {"color": "#7a7a7a"}, "thickness": 1, "clip": true},
    "encoding": {"y": {"field": "h", "type": "quantitative", "title": null}, "yError": {"field": "a"}}},
   {"mark": {"type": "errorbar", "ticks": {"color": "#222", "size": 4}, "rule": {"color": "#7a7a7a"}, "thickness": 1, "clip": true},
    "encoding": {"y": {"field": "v", "type": "quantitative", "title": null}, "yError": {"field": "b"}}},
   {"mark": {"type": "line", "strokeWidth": 2, "interpolate": "monotone"},
    "encoding": {"y": {"field": "h", "type": "quantitative", "title": null},
      "color": {"datum": "Horizontal eye position", "scale": {"domain": ["Horizontal eye position", "Vertical eye position"], "range": ["#1414dc", "#dc1414"]},
        "legend": {"orient": "none", "legendX": 194, "legendY": 21, "title": null, "symbolType": "stroke", "symbolSize": 576, "symbolStrokeWidth": 3, "labelAlign": "right", "labelOffset": -31, "labelFont": "Liberation Serif", "labelFontWeight": "bold", "labelFontSize": 12, "labelColor": "#000", "rowPadding": -10}}}},
   {"mark": {"type": "line", "strokeWidth": 2, "interpolate": "monotone"},
    "encoding": {"y": {"field": "v", "type": "quantitative", "title": null},
      "color": {"datum": "Vertical eye position"}}}
  ]}]}
], "spacing": 37, "resolve": {"scale": {"color": "independent"}, "legend": {"color": "independent"}}}
]
}
